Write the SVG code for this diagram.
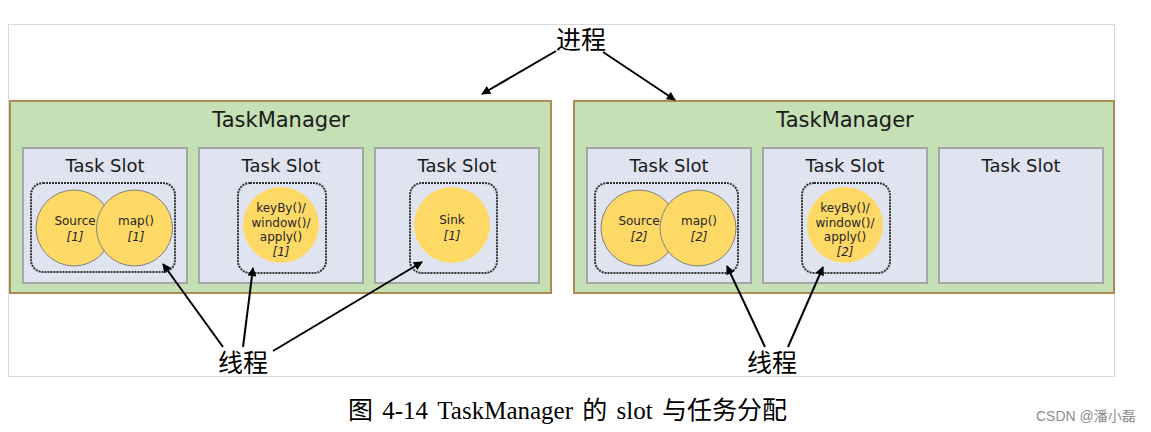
<svg xmlns="http://www.w3.org/2000/svg" width="1151" height="432" viewBox="0 0 1151 432">
<style>
.frame{fill:#fff;stroke:#d9d9d9;stroke-width:1}
.tm{fill:#c5e0b4;stroke:#ae8a55;stroke-width:2}
.slot{fill:#e0e4f0;stroke:#a6a6a6;stroke-width:2}
.grp{fill:none;stroke:#333;stroke-width:2;stroke-dasharray:2 1}
.op{fill:#ffd966;stroke:#808080;stroke-width:1}
.op2{fill:#ffd966;stroke:none}
.t1{font-family:"DejaVu Sans",Verdana,sans-serif;font-size:21px;fill:#1a1a1a;text-anchor:middle}
.t2{font-family:"DejaVu Sans",Verdana,sans-serif;font-size:18px;fill:#1a1a1a;text-anchor:middle}
.t3{font-family:"DejaVu Sans",Verdana,sans-serif;font-size:12px;fill:#262626;text-anchor:middle}
.it{font-style:italic}
.lab{font-family:"Noto Sans CJK SC",sans-serif;font-size:25px;fill:#000;text-anchor:middle}
.cap{font-family:"Liberation Serif","Noto Sans CJK SC",serif;font-size:25px;fill:#000;word-spacing:3px}
.wm{font-family:"Liberation Sans","Noto Sans CJK SC",sans-serif;font-size:14px;fill:#8c8c8c}
.ar{fill:none;stroke:#000;stroke-width:2;marker-end:url(#ah)}
</style>
<defs>
<marker id="ah" viewBox="0 0 10 10" refX="9" refY="5" markerWidth="5" markerHeight="4.5" orient="auto" markerUnits="strokeWidth">
<path d="M0,0 L10,5 L0,10 z" fill="#000"/>
</marker>
</defs>
<rect class="frame" x="8.5" y="24.5" width="1106" height="352"/>
<g id="tm1">
<rect class="tm" x="10" y="101" width="541" height="192"/>
<text class="t1" x="281" y="127">TaskManager</text>
</g>
<g id="tm1-slot1">
<rect class="slot" x="23" y="148" width="164" height="135"/>
<text class="t2" x="105" y="172">Task Slot</text>
<rect class="grp" x="31" y="183" width="144" height="89" rx="12"/>
<circle class="op" cx="74" cy="228" r="38"/>
<text class="t3" x="75" y="225">Source</text>
<text class="t3 it" x="75" y="241">[1]</text>
<circle class="op" cx="134.5" cy="228" r="38"/>
<text class="t3" x="136" y="225">map()</text>
<text class="t3 it" x="136" y="241">[1]</text>
</g>
<g id="tm1-slot2">
<rect class="slot" x="199" y="148" width="164" height="135"/>
<text class="t2" x="281" y="172">Task Slot</text>
<rect class="grp" x="238" y="183" width="88" height="90" rx="12"/>
<circle class="op2" cx="281" cy="225" r="38"/>
<text class="t3" x="281" y="212">keyBy()/</text>
<text class="t3" x="281" y="227">window()/</text>
<text class="t3" x="281" y="241">apply()</text>
<text class="t3 it" x="281" y="256">[1]</text>
</g>
<g id="tm1-slot3">
<rect class="slot" x="375" y="148" width="164" height="135"/>
<text class="t2" x="457" y="172">Task Slot</text>
<rect class="grp" x="410" y="183" width="87" height="90" rx="12"/>
<circle class="op2" cx="452" cy="225" r="38"/>
<text class="t3" x="452" y="224">Sink</text>
<text class="t3 it" x="452" y="240">[1]</text>
</g>
<g id="tm2">
<rect class="tm" x="574" y="101" width="540" height="192"/>
<text class="t1" x="845" y="127">TaskManager</text>
</g>
<g id="tm2-slot1">
<rect class="slot" x="587" y="148" width="164" height="135"/>
<text class="t2" x="669" y="172">Task Slot</text>
<rect class="grp" x="595" y="183" width="143" height="90" rx="12"/>
<circle class="op" cx="639" cy="228" r="38"/>
<text class="t3" x="639" y="225">Source</text>
<text class="t3 it" x="639" y="241">[2]</text>
<circle class="op" cx="698" cy="228" r="38"/>
<text class="t3" x="699" y="225">map()</text>
<text class="t3 it" x="699" y="241">[2]</text>
</g>
<g id="tm2-slot2">
<rect class="slot" x="763" y="148" width="164" height="135"/>
<text class="t2" x="845" y="172">Task Slot</text>
<rect class="grp" x="802" y="183" width="88" height="90" rx="12"/>
<circle class="op2" cx="845" cy="225" r="38"/>
<text class="t3" x="845" y="212">keyBy()/</text>
<text class="t3" x="845" y="227">window()/</text>
<text class="t3" x="845" y="241">apply()</text>
<text class="t3 it" x="845" y="256">[2]</text>
</g>
<g id="tm2-slot3">
<rect class="slot" x="939" y="148" width="164" height="135"/>
<text class="t2" x="1021" y="172">Task Slot</text>
</g>
<g id="label-process">
<text class="lab" x="581" y="49">进程</text>
</g>
<g id="label-thread1">
<text class="lab" x="243" y="372">线程</text>
</g>
<g id="label-thread2">
<text class="lab" x="772" y="372">线程</text>
</g>
<g id="connectors">
<line class="ar" x1="556" y1="51" x2="482" y2="94"/>
<line class="ar" x1="603" y1="52" x2="675" y2="100"/>
<line class="ar" x1="223" y1="347" x2="163" y2="264"/>
<line class="ar" x1="243" y1="347" x2="253" y2="268"/>
<line class="ar" x1="273" y1="351" x2="422" y2="262"/>
<line class="ar" x1="765" y1="347" x2="727" y2="266"/>
<line class="ar" x1="788" y1="347" x2="823" y2="267"/>
</g>
<text class="cap" x="348" y="419">图 4-14 TaskManager 的 slot 与任务分配</text>
<text class="wm" x="1036" y="421">CSDN @潘小磊</text>
</svg>
